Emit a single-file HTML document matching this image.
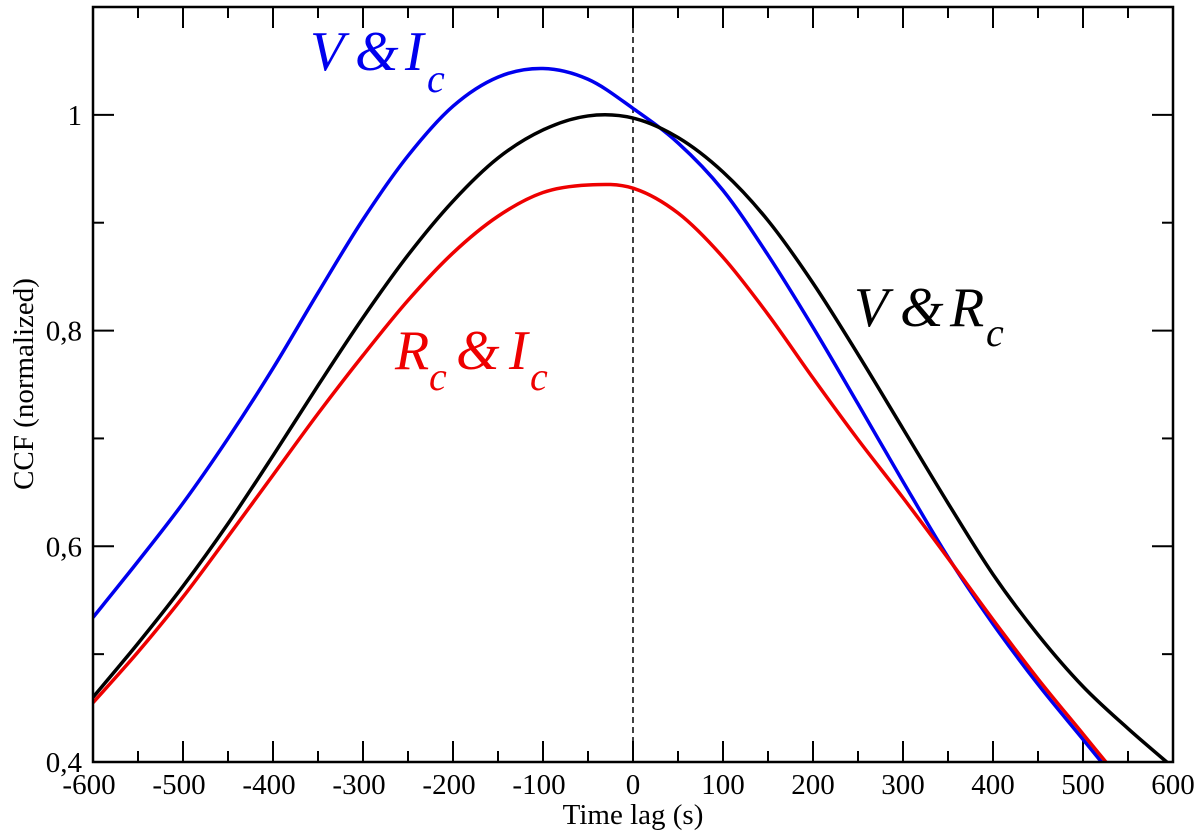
<!DOCTYPE html>
<html><head><meta charset="utf-8"><style>
html,body{margin:0;padding:0;background:#fff;}
svg{display:block;}
svg text{font-family:"Liberation Serif","Times New Roman",serif;}
</style></head><body>
<svg id="chart" width="1200" height="837" viewBox="0 0 1200 837">
<g id="ticks"></g>
<g id="curves"></g>
<rect x="93" y="7" width="1080" height="755" fill="none" stroke="#000" stroke-width="2.5"/>
<g id="labels"></g>
<text x="633" y="824" font-size="29" font-family="Liberation Serif, serif" text-anchor="middle">Time lag (s)</text>
<text transform="translate(33,384) rotate(-90)" font-size="29" font-family="Liberation Serif, serif" text-anchor="middle">CCF (normalized)</text>
<text font-size="56" font-style="italic" font-family="Liberation Serif, serif" fill="#0000ee"><tspan x="310" y="70">V</tspan><tspan x="355" y="70">&amp;</tspan><tspan x="405" y="70">I</tspan><tspan x="427" y="92" font-size="40">c</tspan></text>
<text font-size="56" font-style="italic" font-family="Liberation Serif, serif" fill="#000"><tspan x="854" y="326">V</tspan><tspan x="900" y="326">&amp;</tspan><tspan x="950" y="326">R</tspan><tspan x="986" y="346" font-size="40">c</tspan></text>
<text font-size="56" font-style="italic" font-family="Liberation Serif, serif" fill="#ee0000"><tspan x="395" y="369">R</tspan><tspan x="429" y="390" font-size="40">c</tspan><tspan x="456" y="369">&amp;</tspan><tspan x="509" y="369">I</tspan><tspan x="530" y="390" font-size="40">c</tspan></text>
</svg>
<script>
const lags = [-600,-550,-500,-450,-400,-350,-300,-250,-200,-150,-100,-50,0,50,100,150,200,250,300,350,400,450,500,550,600];
const vRc = [0.460,0.510,0.563,0.621,0.684,0.749,0.812,0.870,0.920,0.960,0.986,0.999,0.997,0.979,0.947,0.902,0.844,0.778,0.709,0.640,0.574,0.518,0.470,0.431,0.395];
const vIc = [0.534,0.586,0.640,0.700,0.765,0.835,0.903,0.962,1.008,1.035,1.043,1.033,1.006,0.974,0.930,0.870,0.803,0.732,0.660,0.590,0.528,0.472,0.421,0.370,0.320];
const rcIc = [0.455,0.502,0.553,0.609,0.666,0.723,0.777,0.828,0.872,0.906,0.928,0.935,0.932,0.909,0.868,0.815,0.756,0.699,0.645,0.589,0.532,0.477,0.426,0.375,0.325];
const xTicks = [-600,-500,-400,-300,-200,-100,0,100,200,300,400,500,600];
const yTicks = [0.4,0.6,0.8,1.0];
const yTickLabels = ["0,4","0,6","0,8","1"];
const X0=93,X1=1173,Y0=762,Y1=7,xmin=-600,xmax=600,ymin=0.4,ymax=1.1;
const sx=v=>X0+(v-xmin)/(xmax-xmin)*(X1-X0);
const sy=v=>Y0-(v-ymin)/(ymax-ymin)*(Y0-Y1);
const NS="http://www.w3.org/2000/svg";
const tg=document.getElementById('ticks'),lg=document.getElementById('labels'),cg=document.getElementById('curves');
function line(g,x1,y1,x2,y2,attrs){const l=document.createElementNS(NS,'line');l.setAttribute('x1',x1);l.setAttribute('y1',y1);l.setAttribute('x2',x2);l.setAttribute('y2',y2);for(const k in attrs)l.setAttribute(k,attrs[k]);g.appendChild(l);return l;}
for(let v=-600;v<=600;v+=50){const major=v%100===0;const L=major?21:11;const x=sx(v);
 let a=line(tg,x,Y0,x,Y0-L,{stroke:'#000','stroke-width':2});
 
 
 let b=line(tg,x,Y1,x,Y1+L,{stroke:'#000','stroke-width':2});
 
 }
for(let i=0;i<=7;i++){const v=0.4+i*0.1;const major=i%2===0;const L=major?21:11;const y=sy(v);
 let a=line(tg,X0,y,X0+L,y,{stroke:'#000','stroke-width':2});
 
 
 let b=line(tg,X1,y,X1-L,y,{stroke:'#000','stroke-width':2});
 
 }
xTicks.forEach(v=>{const t=document.createElementNS(NS,'text');t.setAttribute('x',sx(v)-(v<0?4:0));t.setAttribute('y',794);t.setAttribute('font-size',29);t.setAttribute('font-family','Liberation Serif, serif');t.setAttribute('text-anchor','middle');t.textContent=String(v);
 
 
 lg.appendChild(t);});
yTicks.forEach((v,i)=>{const t=document.createElementNS(NS,'text');t.setAttribute('x',82);t.setAttribute('y',sy(v)+10);t.setAttribute('font-size',29);t.setAttribute('font-family','Liberation Serif, serif');t.setAttribute('text-anchor','end');t.textContent=yTickLabels[i];
 
 
 lg.appendChild(t);});
const cp=document.createElementNS(NS,'clipPath');cp.setAttribute('id','clip');const cr=document.createElementNS(NS,'rect');cr.setAttribute('x',X0);cr.setAttribute('y',Y1);cr.setAttribute('width',X1-X0);cr.setAttribute('height',Y0-Y1);cp.appendChild(cr);document.getElementById('chart').appendChild(cp);
cg.setAttribute('clip-path','url(#clip)');
const zl=line(cg,sx(0),Y1,sx(0),Y0,{stroke:'#000','stroke-width':1.5,'stroke-dasharray':'6,4'});


function smooth(vals){const p=lags.map((t,i)=>[sx(t),sy(vals[i])]);let d=`M${p[0][0]},${p[0][1]}`;
 for(let i=0;i<p.length-1;i++){const p0=p[Math.max(0,i-1)],p1=p[i],p2=p[i+1],p3=p[Math.min(p.length-1,i+2)];
 d+=` C${p1[0]+(p2[0]-p0[0])/6},${p1[1]+(p2[1]-p0[1])/6} ${p2[0]-(p3[0]-p1[0])/6},${p2[1]-(p3[1]-p1[1])/6} ${p2[0]},${p2[1]}`;}return d;}
[[vIc,'#0000ee','series-v-ic'],[rcIc,'#ee0000','series-rc-ic'],[vRc,'#000','series-v-rc']].forEach(([v,c,n])=>{
 const p=document.createElementNS(NS,'path');p.setAttribute('d',smooth(v));p.setAttribute('fill','none');p.setAttribute('stroke',c);p.setAttribute('stroke-width',3.5);
 
 
 cg.appendChild(p);});
</script>
</body></html>
